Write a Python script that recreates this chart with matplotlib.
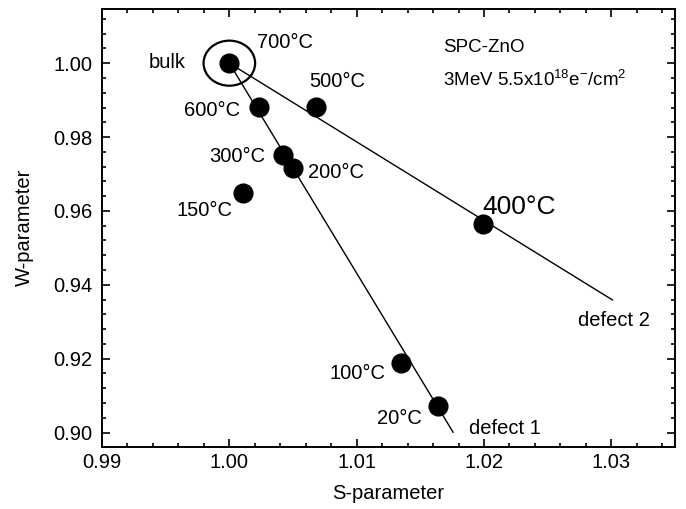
import numpy as np
import matplotlib
matplotlib.use("Agg")
import matplotlib.pyplot as plt
from matplotlib.patches import Ellipse
from matplotlib.ticker import MultipleLocator

plt.rcParams['font.family'] = ['Liberation Sans', 'DejaVu Sans']
plt.rcParams['mathtext.fontset'] = 'custom'
plt.rcParams['mathtext.rm'] = 'Liberation Sans'
plt.rcParams['mathtext.it'] = 'Liberation Sans:italic'
plt.rcParams['mathtext.bf'] = 'Liberation Sans:bold'

# data
labels = ["bulk", "600°C", "500°C", "300°C", "200°C", "150°C", "400°C", "100°C", "20°C"]
s_param = [1.0000, 1.0023, 1.0068, 1.0042, 1.0050, 1.0011, 1.0199, 1.0135, 1.0164]
w_param = [1.0000, 0.9881, 0.9882, 0.9752, 0.9715, 0.9649, 0.9565, 0.9188, 0.9073]

# fitted trend lines, from bulk out to their end points
defect1_s = [1.0000, 1.01757]
defect1_w = [1.0000, 0.9001]
defect2_s = [1.0000, 1.03009]
defect2_w = [1.0000, 0.9359]

# label placement: (dx, dy) in pixels, horizontal alignment, font size
label_pos = {
    "bulk": (-44, 1, "right", 14.5),
    "600°C": (-19, -3, "right", 14.5),
    "500°C": (-7, 25, "left", 14.5),
    "300°C": (-17, -2, "right", 14.5),
    "200°C": (15, -4, "left", 14.5),
    "150°C": (-11, -18, "right", 14.5),
    "400°C": (0, 17, "left", 19),
    "100°C": (-16, -10, "right", 14.5),
    "20°C": (-16, -13, "right", 14.5),
}

fig = plt.figure(figsize=(6.86, 5.09), dpi=100)
ax = fig.add_axes([0.1487, 0.1218, 0.8353, 0.8615])

ax.plot(defect1_s, defect1_w, color="black", lw=1.0)
ax.plot(defect2_s, defect2_w, color="black", lw=1.0)
ax.plot(s_param, w_param, "o", color="black", ms=13.5, zorder=3)

# circle round the bulk point
ax.add_patch(Ellipse((s_param[0], w_param[0]), 0.00405, 0.0122,
                     fill=False, edgecolor="black", lw=1.6))
ax.annotate("700°C", (s_param[0], w_param[0]), xytext=(28, 21),
            textcoords="offset pixels", ha="left", va="center", fontsize=14.5)

for lab, s, w in zip(labels, s_param, w_param):
    dx, dy, ha, fs = label_pos[lab]
    ax.annotate(lab, (s, w), xytext=(dx, dy), textcoords="offset pixels",
                ha=ha, va="center", fontsize=fs)

ax.annotate("defect 1", (defect1_s[1], defect1_w[1]), xytext=(16, 4),
            textcoords="offset pixels", ha="left", va="center", fontsize=14.5)
ax.annotate("defect 2", (defect2_s[1], defect2_w[1]), xytext=(1, -21),
            textcoords="offset pixels", ha="center", va="center", fontsize=14.5)

ax.text(0.595, 0.912, "SPC-ZnO", transform=ax.transAxes, fontsize=13.5,
        ha="left", va="center")
ax.text(0.595, 0.837, "3MeV 5.5x10$^{18}$e$^{-}$/cm$^{2}$", transform=ax.transAxes,
        fontsize=13.5, ha="left", va="center")

ax.set_xlim(0.99, 1.035)
ax.set_ylim(0.8961, 1.0148)
ax.xaxis.set_major_locator(MultipleLocator(0.01))
ax.xaxis.set_minor_locator(MultipleLocator(0.002))
ax.yaxis.set_major_locator(MultipleLocator(0.02))
ax.yaxis.set_minor_locator(MultipleLocator(0.004))
ax.xaxis.set_major_formatter(plt.FormatStrFormatter("%.2f"))
ax.yaxis.set_major_formatter(plt.FormatStrFormatter("%.2f"))
ax.tick_params(which="both", direction="in", top=True, right=True, labelsize=14.5, width=1.2)
ax.tick_params(which="major", length=6)
ax.tick_params(axis="x", which="major", pad=4)
ax.tick_params(axis="y", which="major", pad=7)
ax.tick_params(which="minor", length=3)
for sp in ax.spines.values():
    sp.set_linewidth(1.4)

ax.set_xlabel("S-parameter", fontsize=14.5, labelpad=9)
ax.set_ylabel("W-parameter", fontsize=14.5, labelpad=14)

fig.savefig("out.png", dpi=100)
